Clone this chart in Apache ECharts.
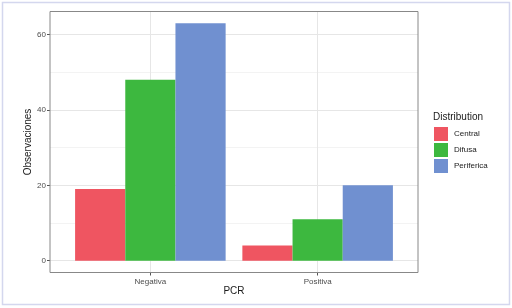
<!DOCTYPE html>
<html><head><meta charset="utf-8">
<script src="https://cdn.jsdelivr.net/npm/echarts@6/dist/echarts.min.js"></script>
<style>html,body{margin:0;padding:0;background:#fff}#c{width:512px;height:308px}</style>
</head><body><div id="c"></div>
<script>
const categories = ['Negativa', 'Positiva'];
const seriesNames = ['Central', 'Difusa', 'Periferica'];
const centralValues = [19, 4];
const difusaValues = [48, 11];
const perifericaValues = [63, 20];
const yTicks = [0, 20, 40, 60];
const colors = ['#EF5561', '#3DB83F', '#7090D0'];
const FONT = '"Liberation Sans", Arial, sans-serif';

const P = {left: 50, top: 11.5, right: 418, bottom: 272.5};
const W = P.right - P.left, H = P.bottom - P.top;
const maxV = Math.max(...centralValues, ...difusaValues, ...perifericaValues);
const yMin = -maxV * 0.05, yMax = maxV * 1.05;
const xMin = 0.4, xMax = categories.length + 0.6;
const xSpan = xMax - xMin;
const barLeft = P.left + (0.5 - xMin) / xSpan * W;
const barRight = P.left + (categories.length + 0.5 - xMin) / xSpan * W;

const chart = echarts.init(document.getElementById('c'), null, {renderer: 'canvas'});
const allData = [centralValues, difusaValues, perifericaValues];
chart.setOption({
  animation: false,
  textStyle: {fontFamily: FONT},
  title: {text: 'Distribution', left: 433, top: 112, textStyle: {fontSize: 10, fontWeight: 'normal', color: '#1a1a1a', fontFamily: FONT}, padding: 0},
  legend: {
    orient: 'vertical', left: 434, top: 127, itemWidth: 14, itemHeight: 14, itemGap: 2,
    icon: 'rect', padding: 0, data: seriesNames,
    textStyle: {fontSize: 8, color: '#1a1a1a', fontFamily: FONT, padding: [0,0,0,1]}
  },
  grid: [
    {left: P.left, top: P.top, width: W, height: H, show: false, containLabel: false},
    {left: barLeft, top: P.top, width: barRight - barLeft, height: H, show: false, containLabel: false}
  ],
  xAxis: [
    {gridIndex: 0, type: 'value', min: xMin, max: xMax, minInterval: 1, maxInterval: 1,
     axisLine: {show: false, onZero: false},
     axisTick: {show: true, length: 3, lineStyle: {color: '#555'}, customValues: categories.map((c, i) => i + 1)},
     axisLabel: {show: true, fontSize: 8, color: '#4d4d4d', margin: 5, fontFamily: FONT,
       customValues: categories.map((c, i) => i + 1),
       formatter: v => categories[Math.round(v) - 1] || ''},
     splitLine: {show: true, lineStyle: {color: '#e6e6e6', width: 1}},
     name: 'PCR', nameLocation: 'middle', nameGap: 14, nameMoveOverlap: false,
     nameTextStyle: {fontSize: 10, color: '#1a1a1a', fontFamily: FONT}},
    {gridIndex: 1, type: 'category', data: categories, boundaryGap: true, show: false}
  ],
  yAxis: [
    {gridIndex: 0, type: 'value', min: yMin, max: yMax, minInterval: 20, maxInterval: 20, splitNumber: 3,
     axisLine: {show: false, onZero: false},
     axisTick: {show: true, length: 3, lineStyle: {color: '#555'}, customValues: yTicks},
     axisLabel: {show: true, fontSize: 8, color: '#4d4d4d', margin: 4, fontFamily: FONT, customValues: yTicks},
     splitLine: {show: true, lineStyle: {color: '#e6e6e6', width: 1}},
     minorTick: {show: false, splitNumber: 2},
     minorSplitLine: {show: true, lineStyle: {color: '#f3f3f3', width: 1}},
     name: 'Observaciones', nameLocation: 'middle', nameGap: 17, nameRotate: 90, nameMoveOverlap: false,
     nameTextStyle: {fontSize: 10, color: '#1a1a1a', fontFamily: FONT}},
    {gridIndex: 1, type: 'value', min: yMin, max: yMax, show: false}
  ],
  series: seriesNames.map((n, i) => ({
    name: n, type: 'bar', xAxisIndex: 1, yAxisIndex: 1, data: allData[i],
    barGap: '0%', barCategoryGap: '10%', itemStyle: {color: colors[i]}
  })),
  graphic: [
    {type: 'rect', z: 100, shape: {x: P.left, y: P.top, width: W, height: H}, style: {fill: null, stroke: '#888', lineWidth: 1}},
    {type: 'rect', z: 100, shape: {x: 2.5, y: 2.5, width: 507, height: 302}, style: {fill: null, stroke: '#d4d7ee', lineWidth: 1.5}}
  ]
});
</script></body></html>
